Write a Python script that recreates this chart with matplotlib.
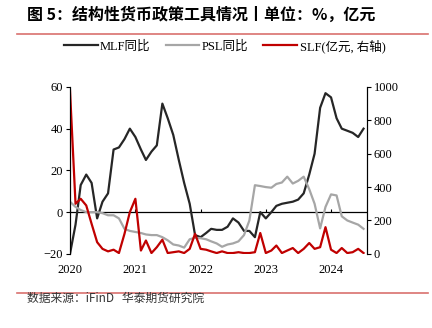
import pandas as pd
import matplotlib
matplotlib.use("Agg")
import matplotlib.pyplot as plt
import matplotlib.dates as mdates
from matplotlib.lines import Line2D

# monthly data, Jan 2020 - Jul 2024
months = pd.date_range("2020-01-01", periods=55, freq="MS")

mlf_yoy = [-20, -6, 13, 18, 14, -3, 5, 9, 30, 31, 35, 40,
           36, 30, 25, 29, 32, 52, 45, 37, 25, 14, 4, -11,
           -12, -10, -8, -8.5, -8.5, -7, -3, -5, -9, -9, -12, 0,
           -3, 0, 3, 4, 4.5, 5, 6, 9, 18, 28, 50, 57,
           55, 45, 40, 39, 38, 36, 40]

psl_yoy = [5, 2.5, 1, 0, 0, 0, -0.5, -1.5, -1.5, -3, -8, -9,
           -9.5, -10, -10.7, -11, -11, -12, -13.5, -15.5, -16, -17, -13, -12.3,
           -12.5, -13, -14, -15, -16.6, -15.5, -15, -14, -11, -4, 12.9, 12.5,
           12, 11.7, 13.5, 14.2, 17, 13.7, 15, 17, 11, 4, -7.8, 2.5,
           8.5, 8, -2, -4, -5, -6, -8]

slf = [980, 300, 330, 290, 180, 70, 30, 15, 25, 5, 120, 250,
       330, 20, 80, 5, 40, 85, 5, 10, 15, 5, 30, 120,
       30, 25, 15, 5, 15, 5, 5, 10, 5, 5, 10, 125,
       5, 20, 50, 5, 20, 35, 5, 30, 65, 30, 40, 160,
       25, 5, 35, 5, 10, 30, 5]

year_ticks = pd.to_datetime(["2020-01-01", "2021-01-01", "2022-01-01", "2023-01-01", "2024-01-01"])
year_labels = ["2020", "2021", "2022", "2023", "2024"]

BLACK = "#262626"
GRAY = "#A6A6A6"
RED = "#C00000"
CJK = ["Noto Sans CJK SC", "DejaVu Sans"]
SERIF_CJK = ["Liberation Serif", "Noto Sans CJK SC"]

plt.rcParams["font.family"] = SERIF_CJK

fig = plt.figure(figsize=(4.32, 3.28), dpi=100)
ax = fig.add_axes([0.162, 0.226, 0.687, 0.509])
ax2 = ax.twinx()

ax.plot(months, mlf_yoy, color=BLACK, lw=1.6, solid_joinstyle="round")
ax.plot(months, psl_yoy, color=GRAY, lw=1.6, solid_joinstyle="round")
ax2.plot(months, slf, color=RED, lw=1.6, solid_joinstyle="round")

ax.set_ylim(-20, 60)
ax.set_yticks([-20, 0, 20, 40, 60])
ax2.set_ylim(0, 1000)
ax2.set_yticks([0, 200, 400, 600, 800, 1000])
ax.set_xlim(pd.Timestamp("2020-01-01"), pd.Timestamp("2024-07-19"))

ax.set_xticks(year_ticks)
ax.set_xticklabels(year_labels)
ax.tick_params(axis="x", length=0, pad=7, labelsize=9)
ax.tick_params(axis="y", length=3, width=0.8, labelsize=9, pad=2)
ax2.tick_params(axis="y", length=3, width=0.8, labelsize=9, pad=2)

for a in (ax, ax2):
    a.spines["top"].set_visible(False)
    a.spines["bottom"].set_visible(False)
    a.spines["left"].set_linewidth(0.8)
    a.spines["right"].set_linewidth(0.8)

# zero line with small year ticks
ax.axhline(0, color="black", lw=0.9, zorder=1)
sec = ax.secondary_xaxis(0.25)
sec.set_xticks(year_ticks)
sec.set_xticklabels([])
sec.tick_params(direction="in", length=2.5, width=0.8)
sec.spines["bottom"].set_visible(False)

# legend
handles = [Line2D([], [], color=BLACK, lw=1.6),
           Line2D([], [], color=GRAY, lw=1.6),
           Line2D([], [], color=RED, lw=1.6)]
fig.legend(handles, ["MLF同比", "PSL同比", "SLF(亿元, 右轴)"],
           loc="center", bbox_to_anchor=(0.52, 0.86), ncol=3, frameon=False,
           fontsize=9, handlelength=2.7, handletextpad=0.2, columnspacing=1.2)

# title, separator lines, source
fig.text(0.062, 0.954, "图 5：结构性货币政策工具情况丨单位：%，亿元",
         family=CJK, fontsize=11.5, fontweight="bold", va="center", ha="left")
fig.add_artist(Line2D([0.04, 0.99], [0.895, 0.895], color="#D9716E", lw=1.2))
fig.add_artist(Line2D([0.04, 0.99], [0.107, 0.107], color="#D9716E", lw=1.2))
fig.text(0.062, 0.09, "数据来源：iFinD   华泰期货研究院",
         family=CJK, fontsize=8.5, va="center", ha="left", color="#333333")

fig.savefig("out.png", dpi=100)
